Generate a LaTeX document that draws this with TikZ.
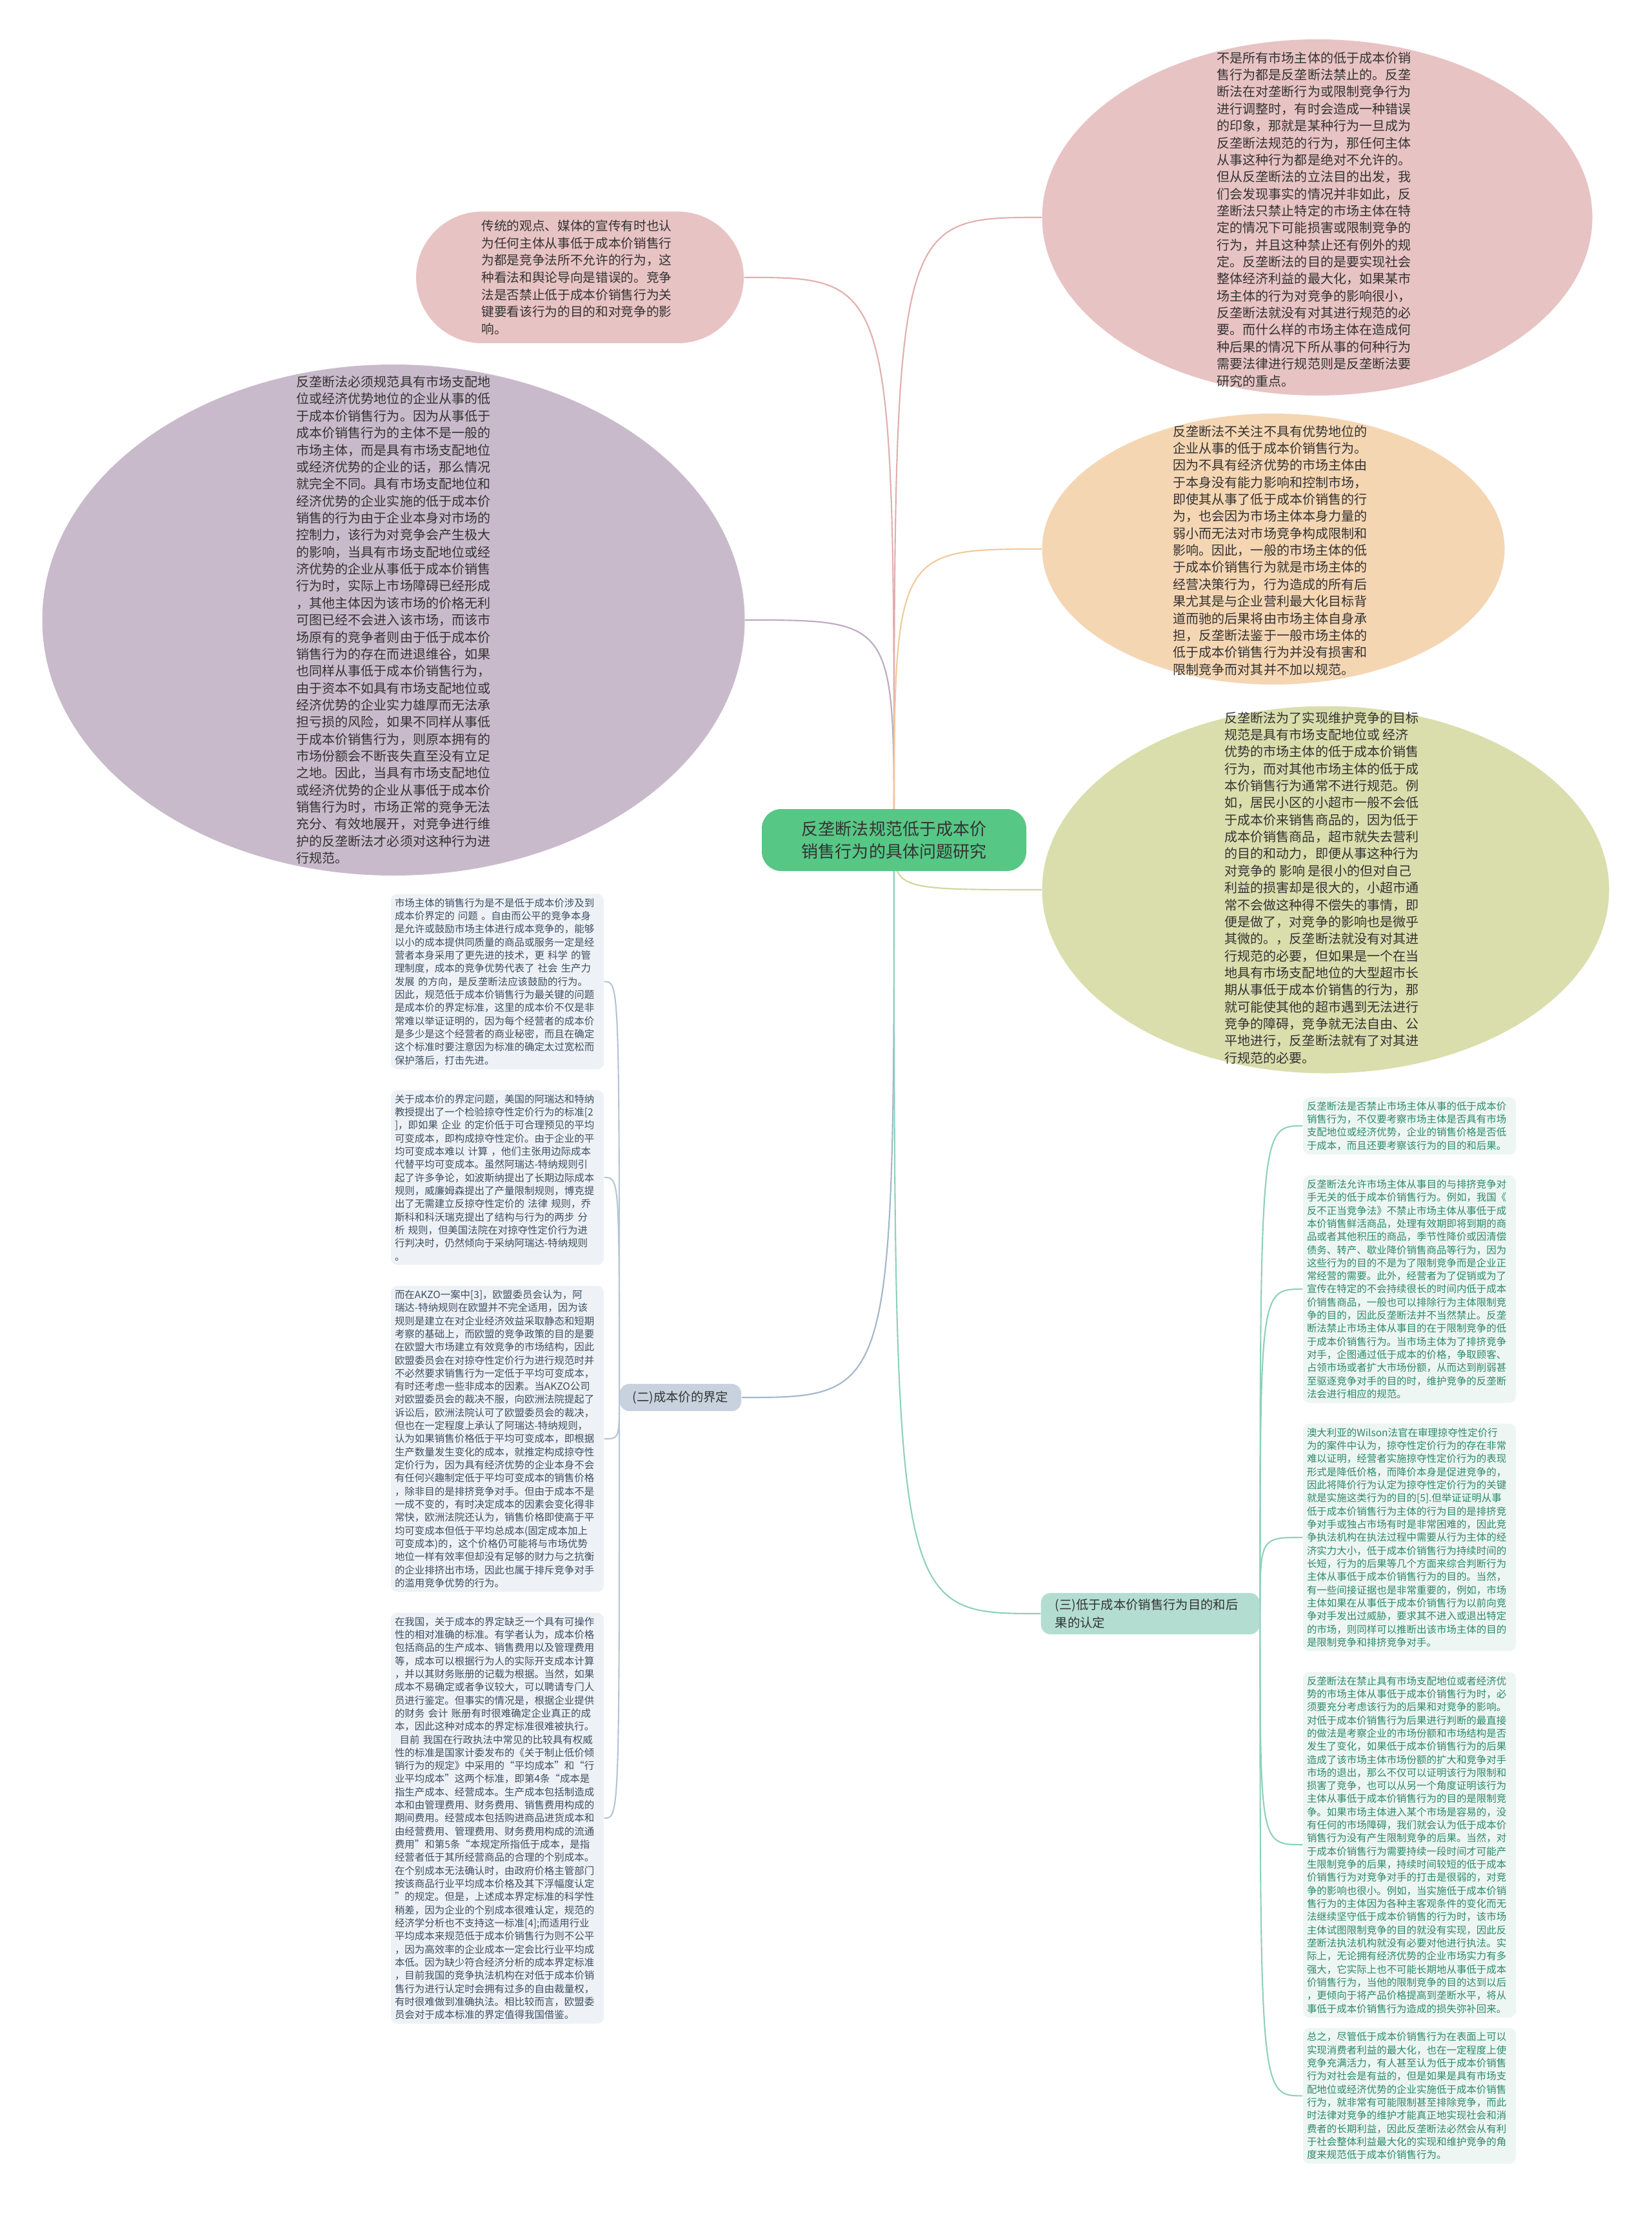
\documentclass[tikz,border=0pt]{standalone}
\usepackage{fontspec}
\setmainfont{Noto Sans CJK SC}
\usepackage{xcolor}
\usepackage{tikz}
\usetikzlibrary{positioning,calc,shapes.geometric,backgrounds}
\definecolor{hubgreen}{HTML}{57C785}
\definecolor{inkgray}{HTML}{333333}
\definecolor{rosefill}{HTML}{E8C3C3}
\definecolor{lilacfill}{HTML}{C9BACB}
\definecolor{apricotfill}{HTML}{F5D6B3}
\definecolor{olivefill}{HTML}{D9DEAC}
\definecolor{slatefill}{HTML}{C7D2DE}
\definecolor{mintfill}{HTML}{B3DDD0}
\definecolor{leafblue}{HTML}{EEF2F6}
\definecolor{leafmint}{HTML}{EDF6F2}
\definecolor{leafink}{HTML}{3E4F63}
\definecolor{mintink}{HTML}{2E8A6B}
\definecolor{roseline}{HTML}{E2AEAE}
\definecolor{lilacline}{HTML}{BCAABF}
\definecolor{apricotline}{HTML}{F2C99A}
\definecolor{oliveline}{HTML}{D0D79A}
\definecolor{slateline}{HTML}{A3B6CB}
\definecolor{mintline}{HTML}{8FD0BC}

\begin{document}
\begin{tikzpicture}[
    node distance=3.1mm,
    hub/.style={rectangle, rounded corners=3mm, fill=hubgreen, minimum width=4.1cm,
        minimum height=0.96cm, align=center, text=inkgray, font=\fontsize{7.4}{10}\selectfont},
    bubble/.style={ellipse, inner sep=0pt},
    bubtext/.style={align=left, inner sep=0pt, text=inkgray, font=\fontsize{5.7}{7.5}\selectfont},
    branch/.style={rectangle, rounded corners=1.5mm, inner ysep=1.1mm, inner xsep=2mm,
        text=inkgray, font=\fontsize{5.5}{8}\selectfont},
    leaf/.style={rectangle, rounded corners=1mm, text width=3.18cm, inner xsep=0.6mm,
        inner ysep=0.65mm, align=left, font=\fontsize{4.4}{5.78}\selectfont},
    link/.style={line width=0.6pt}
]
\useasboundingbox (0,0) rectangle (25.6,-34.3);

% central topic
\node[hub] (hub) at (13.86,-13.02) {反垄断法规范低于成本价\\销售行为的具体问题研究};

% left bubbles
\node[rectangle, rounded corners=1.02cm, fill=rosefill, minimum width=5.08cm, minimum height=2.04cm] (view) at (8.99,-4.30) {};
\node[bubtext, font=\fontsize{5.6}{7.6}\selectfont] (viewT) at ($(view.center)+(-0.05,0)$) {传统的观点、媒体的宣传有时也认\\为任何主体从事低于成本价销售行\\为都是竞争法所不允许的行为，这\\种看法和舆论导向是错误的。竞争\\法是否禁止低于成本价销售行为关\\键要看该行为的目的和对竞争的影\\响。};

\node[bubble, fill=lilacfill, minimum width=10.89cm, minimum height=7.92cm] (must) at (6.10,-9.61) {};
\node[bubtext] (mustT) at (must.center) {反垄断法必须规范具有市场支配地\\位或经济优势地位的企业从事的低\\于成本价销售行为。因为从事低于\\成本价销售行为的主体不是一般的\\市场主体，而是具有市场支配地位\\或经济优势的企业的话，那么情况\\就完全不同。具有市场支配地位和\\经济优势的企业实施的低于成本价\\销售的行为由于企业本身对市场的\\控制力，该行为对竞争会产生极大\\的影响，当具有市场支配地位或经\\济优势的企业从事低于成本价销售\\行为时，实际上市场障碍已经形成\\，其他主体因为该市场的价格无利\\可图已经不会进入该市场，而该市\\场原有的竞争者则由于低于成本价\\销售行为的存在而进退维谷，如果\\也同样从事低于成本价销售行为，\\由于资本不如具有市场支配地位或\\经济优势的企业实力雄厚而无法承\\担亏损的风险，如果不同样从事低\\于成本价销售行为，则原本拥有的\\市场份额会不断丧失直至没有立足\\之地。因此，当具有市场支配地位\\或经济优势的企业从事低于成本价\\销售行为时，市场正常的竞争无法\\充分、有效地展开，对竞争进行维\\护的反垄断法才必须对这种行为进\\行规范。};

% right bubbles
\node[bubble, fill=rosefill, minimum width=8.53cm, minimum height=5.52cm] (notall) at (20.42,-3.37) {};
\node[bubtext] (notallT) at ($(notall.center)+(-0.05,-0.03)$) {不是所有市场主体的低于成本价销\\售行为都是反垄断法禁止的。反垄\\断法在对垄断行为或限制竞争行为\\进行调整时，有时会造成一种错误\\的印象，那就是某种行为一旦成为\\反垄断法规范的行为，那任何主体\\从事这种行为都是绝对不允许的。\\但从反垄断法的立法目的出发，我\\们会发现事实的情况并非如此，反\\垄断法只禁止特定的市场主体在特\\定的情况下可能损害或限制竞争的\\行为，并且这种禁止还有例外的规\\定。反垄断法的目的是要实现社会\\整体经济利益的最大化，如果某市\\场主体的行为对竞争的影响很小，\\反垄断法就没有对其进行规范的必\\要。而什么样的市场主体在造成何\\种后果的情况下所从事的何种行为\\需要法律进行规范则是反垄断法要\\研究的重点。};

\node[bubble, fill=apricotfill, minimum width=7.17cm, minimum height=4.20cm] (weak) at (19.74,-8.51) {};
\node[bubtext] (weakT) at ($(weak.center)+(-0.05,-0.02)$) {反垄断法不关注不具有优势地位的\\企业从事的低于成本价销售行为。\\因为不具有经济优势的市场主体由\\于本身没有能力影响和控制市场，\\即使其从事了低于成本价销售的行\\为，也会因为市场主体本身力量的\\弱小而无法对市场竞争构成限制和\\影响。因此，一般的市场主体的低\\于成本价销售行为就是市场主体的\\经营决策行为，行为造成的所有后\\果尤其是与企业营利最大化目标背\\道而驰的后果将由市场主体自身承\\担，反垄断法鉴于一般市场主体的\\低于成本价销售行为并没有损害和\\限制竞争而对其并不加以规范。};

\node[bubble, fill=olivefill, minimum width=8.79cm, minimum height=5.69cm] (shop) at (20.55,-13.79) {};
\node[bubtext] (shopT) at ($(shop.center)+(-0.06,0.03)$) {反垄断法为了实现维护竞争的目标\\规范是具有市场支配地位或 经济\\优势的市场主体的低于成本价销售\\行为，而对其他市场主体的低于成\\本价销售行为通常不进行规范。例\\如，居民小区的小超市一般不会低\\于成本价来销售商品的，因为低于\\成本价销售商品，超市就失去营利\\的目的和动力，即便从事这种行为\\对竞争的 影响 是很小的但对自己\\利益的损害却是很大的，小超市通\\常不会做这种得不偿失的事情，即\\便是做了，对竞争的影响也是微乎\\其微的。，反垄断法就没有对其进\\行规范的必要，但如果是一个在当\\地具有市场支配地位的大型超市长\\期从事低于成本价销售的行为，那\\就可能使其他的超市遇到无法进行\\竞争的障碍，竞争就无法自由、公\\平地进行，反垄断法就有了对其进\\行规范的必要。};

% branch: cost price
\node[branch, fill=slatefill] (cost) at (10.55,-21.66) {(二)成本价的界定};
\node[leaf, fill=leafblue, text=leafink, anchor=north] (cost1) at (7.71,-13.85) {市场主体的销售行为是不是低于成本价涉及到\\成本价界定的 问题 。自由而公平的竞争本身\\是允许或鼓励市场主体进行成本竞争的，能够\\以小的成本提供同质量的商品或服务一定是经\\营者本身采用了更先进的技术，更 科学 的管\\理制度，成本的竞争优势代表了 社会 生产力\\发展 的方向，是反垄断法应该鼓励的行为。\\因此，规范低于成本价销售行为最关键的问题\\是成本价的界定标准，这里的成本价不仅是非\\常难以举证证明的，因为每个经营者的成本价\\是多少是这个经营者的商业秘密，而且在确定\\这个标准时要注意因为标准的确定太过宽松而\\保护落后，打击先进。};
\node[leaf, fill=leafblue, text=leafink, below=of cost1] (cost2) {关于成本价的界定问题，美国的阿瑞达和特纳\\教授提出了一个检验掠夺性定价行为的标准[2\\]，即如果 企业 的定价低于可合理预见的平均\\可变成本，即构成掠夺性定价。由于企业的平\\均可变成本难以 计算 ，他们主张用边际成本\\代替平均可变成本。虽然阿瑞达-特纳规则引\\起了许多争论，如波斯纳提出了长期边际成本\\规则，威廉姆森提出了产量限制规则，博克提\\出了无需建立反掠夺性定价的 法律 规则，乔\\斯科和科沃瑞克提出了结构与行为的两步 分\\析 规则，但美国法院在对掠夺性定价行为进\\行判决时，仍然倾向于采纳阿瑞达-特纳规则\\。};
\node[leaf, fill=leafblue, text=leafink, below=of cost2] (cost3) {而在AKZO一案中[3]，欧盟委员会认为，阿\\瑞达-特纳规则在欧盟并不完全适用，因为该\\规则是建立在对企业经济效益采取静态和短期\\考察的基础上，而欧盟的竞争政策的目的是要\\在欧盟大市场建立有效竞争的市场结构，因此\\欧盟委员会在对掠夺性定价行为进行规范时并\\不必然要求销售行为一定低于平均可变成本，\\有时还考虑一些非成本的因素。当AKZO公司\\对欧盟委员会的裁决不服，向欧洲法院提起了\\诉讼后，欧洲法院认可了欧盟委员会的裁决，\\但也在一定程度上承认了阿瑞达-特纳规则，\\认为如果销售价格低于平均可变成本，即根据\\生产数量发生变化的成本，就推定构成掠夺性\\定价行为，因为具有经济优势的企业本身不会\\有任何兴趣制定低于平均可变成本的销售价格\\，除非目的是排挤竞争对手。但由于成本不是\\一成不变的，有时决定成本的因素会变化得非\\常快，欧洲法院还认为，销售价格即使高于平\\均可变成本但低于平均总成本(固定成本加上\\可变成本)的，这个价格仍可能将与市场优势\\地位一样有效率但却没有足够的财力与之抗衡\\的企业排挤出市场，因此也属于排斥竞争对手\\的滥用竞争优势的行为。};
\node[leaf, fill=leafblue, text=leafink, below=of cost3] (cost4) {在我国，关于成本的界定缺乏一个具有可操作\\性的相对准确的标准。有学者认为，成本价格\\包括商品的生产成本、销售费用以及管理费用\\等，成本可以根据行为人的实际开支成本计算\\，并以其财务账册的记载为根据。当然，如果\\成本不易确定或者争议较大，可以聘请专门人\\员进行鉴定。但事实的情况是，根据企业提供\\的财务 会计 账册有时很难确定企业真正的成\\本，因此这种对成本的界定标准很难被执行。\\\hspace*{0.5em}目前 我国在行政执法中常见的比较具有权威\\性的标准是国家计委发布的《关于制止低价倾\\销行为的规定》中采用的“平均成本”和“行\\业平均成本”这两个标准，即第4条“成本是\\指生产成本、经营成本。生产成本包括制造成\\本和由管理费用、财务费用、销售费用构成的\\期间费用。经营成本包括购进商品进货成本和\\由经营费用、管理费用、财务费用构成的流通\\费用”和第5条“本规定所指低于成本，是指\\经营者低于其所经营商品的合理的个别成本。\\在个别成本无法确认时，由政府价格主管部门\\按该商品行业平均成本价格及其下浮幅度认定\\”的规定。但是，上述成本界定标准的科学性\\稍差，因为企业的个别成本很难认定，规范的\\经济学分析也不支持这一标准[4];而适用行业\\平均成本来规范低于成本价销售行为则不公平\\，因为高效率的企业成本一定会比行业平均成\\本低。因为缺少符合经济分析的成本界定标准\\，目前我国的竞争执法机构在对低于成本价销\\售行为进行认定时会拥有过多的自由裁量权，\\有时很难做到准确执法。相比较而言，欧盟委\\员会对于成本标准的界定值得我国借鉴。};

% branch: purpose and effect
\node[branch, fill=mintfill, text width=2.95cm, inner xsep=2.2mm, inner ysep=0.9mm, align=left, anchor=west] (aim) at (16.13,-25.01) {(三)低于成本价销售行为目的和后\\果的认定};
\node[leaf, fill=leafmint, text=mintink, anchor=north] (aim1) at (21.85,-17.00) {反垄断法是否禁止市场主体从事的低于成本价\\销售行为，不仅要考察市场主体是否具有市场\\支配地位或经济优势，企业的销售价格是否低\\于成本，而且还要考察该行为的目的和后果。};
\node[leaf, fill=leafmint, text=mintink, below=of aim1] (aim2) {反垄断法允许市场主体从事目的与排挤竞争对\\手无关的低于成本价销售行为。例如，我国《\\反不正当竞争法》不禁止市场主体从事低于成\\本价销售鲜活商品，处理有效期即将到期的商\\品或者其他积压的商品，季节性降价或因清偿\\债务、转产、歇业降价销售商品等行为，因为\\这些行为的目的不是为了限制竞争而是企业正\\常经营的需要。此外，经营者为了促销或为了\\宣传在特定的不会持续很长的时间内低于成本\\价销售商品，一般也可以排除行为主体限制竞\\争的目的，因此反垄断法并不当然禁止。反垄\\断法禁止市场主体从事目的在于限制竞争的低\\于成本价销售行为。当市场主体为了排挤竞争\\对手，企图通过低于成本的价格，争取顾客、\\占领市场或者扩大市场份额，从而达到削弱甚\\至驱逐竞争对手的目的时，维护竞争的反垄断\\法会进行相应的规范。};
\node[leaf, fill=leafmint, text=mintink, below=of aim2] (aim3) {澳大利亚的Wilson法官在审理掠夺性定价行\\为的案件中认为，掠夺性定价行为的存在非常\\难以证明，经营者实施掠夺性定价行为的表现\\形式是降低价格，而降价本身是促进竞争的，\\因此将降价行为认定为掠夺性定价行为的关键\\就是实施这类行为的目的[5].但举证证明从事\\低于成本价销售行为主体的行为目的是排挤竞\\争对手或独占市场有时是非常困难的，因此竞\\争执法机构在执法过程中需要从行为主体的经\\济实力大小，低于成本价销售行为持续时间的\\长短，行为的后果等几个方面来综合判断行为\\主体从事低于成本价销售行为的目的。当然，\\有一些间接证据也是非常重要的，例如，市场\\主体如果在从事低于成本价销售行为以前向竞\\争对手发出过威胁，要求其不进入或退出特定\\的市场，则同样可以推断出该市场主体的目的\\是限制竞争和排挤竞争对手。};
\node[leaf, fill=leafmint, text=mintink, below=of aim3] (aim4) {反垄断法在禁止具有市场支配地位或者经济优\\势的市场主体从事低于成本价销售行为时，必\\须要充分考虑该行为的后果和对竞争的影响。\\对低于成本价销售行为后果进行判断的最直接\\的做法是考察企业的市场份额和市场结构是否\\发生了变化，如果低于成本价销售行为的后果\\造成了该市场主体市场份额的扩大和竞争对手\\市场的退出，那么不仅可以证明该行为限制和\\损害了竞争，也可以从另一个角度证明该行为\\主体从事低于成本价销售行为的目的是限制竞\\争。如果市场主体进入某个市场是容易的，没\\有任何的市场障碍，我们就会认为低于成本价\\销售行为没有产生限制竞争的后果。当然，对\\于成本价销售行为需要持续一段时间才可能产\\生限制竞争的后果，持续时间较短的低于成本\\价销售行为对竞争对手的打击是很弱的，对竞\\争的影响也很小。例如，当实施低于成本价销\\售行为的主体因为各种主客观条件的变化而无\\法继续坚守低于成本价销售的行为时，该市场\\主体试图限制竞争的目的就没有实现，因此反\\垄断法执法机构就没有必要对他进行执法。实\\际上，无论拥有经济优势的企业市场实力有多\\强大，它实际上也不可能长期地从事低于成本\\价销售行为，当他的限制竞争的目的达到以后\\，更倾向于将产品价格提高到垄断水平，将从\\事低于成本价销售行为造成的损失弥补回来。};
\node[leaf, fill=leafmint, text=mintink, below=1.5mm of aim4] (aim5) {总之，尽管低于成本价销售行为在表面上可以\\实现消费者利益的最大化，也在一定程度上使\\竞争充满活力，有人甚至认为低于成本价销售\\行为对社会是有益的，但是如果是具有市场支\\配地位或经济优势的企业实施低于成本价销售\\行为，就非常有可能限制甚至排除竞争，而此\\时法律对竞争的维护才能真正地实现社会和消\\费者的长期利益，因此反垄断法必然会从有利\\于社会整体利益最大化的实现和维护竞争的角\\度来规范低于成本价销售行为。};

% connectors
\begin{scope}[on background layer]
\fill[white] (0,0) rectangle (25.6,-34.3);
\draw[link, draw=roseline] (hub.center) .. controls (hub.center |- view.east) .. (view.east);
\draw[link, draw=lilacline] (hub.center) .. controls (hub.center |- must.east) .. (must.east);
\draw[link, draw=roseline] (hub.center) .. controls (hub.center |- notall.west) .. (notall.west);
\draw[link, draw=apricotline] (hub.center) .. controls (hub.center |- weak.west) .. (weak.west);
\draw[link, draw=oliveline] (hub.center) .. controls (hub.center |- shop.west) .. (shop.west);
\draw[link, draw=slateline] (hub.center) .. controls (hub.center |- cost.east) .. (cost.east);
\draw[link, draw=mintline] (hub.center) .. controls (hub.center |- aim.west) .. (aim.west);
\foreach \b in {cost1,cost2,cost3,cost4}
    \draw[link, draw=slateline!80] (cost.west) .. controls (cost.west |- \b.east) .. (\b.east);
\foreach \b in {aim1,aim2,aim3,aim4,aim5}
    \draw[link, draw=mintline] (aim.east) .. controls (aim.east |- \b.west) .. (\b.west);
\end{scope}
\end{tikzpicture}
\end{document}
